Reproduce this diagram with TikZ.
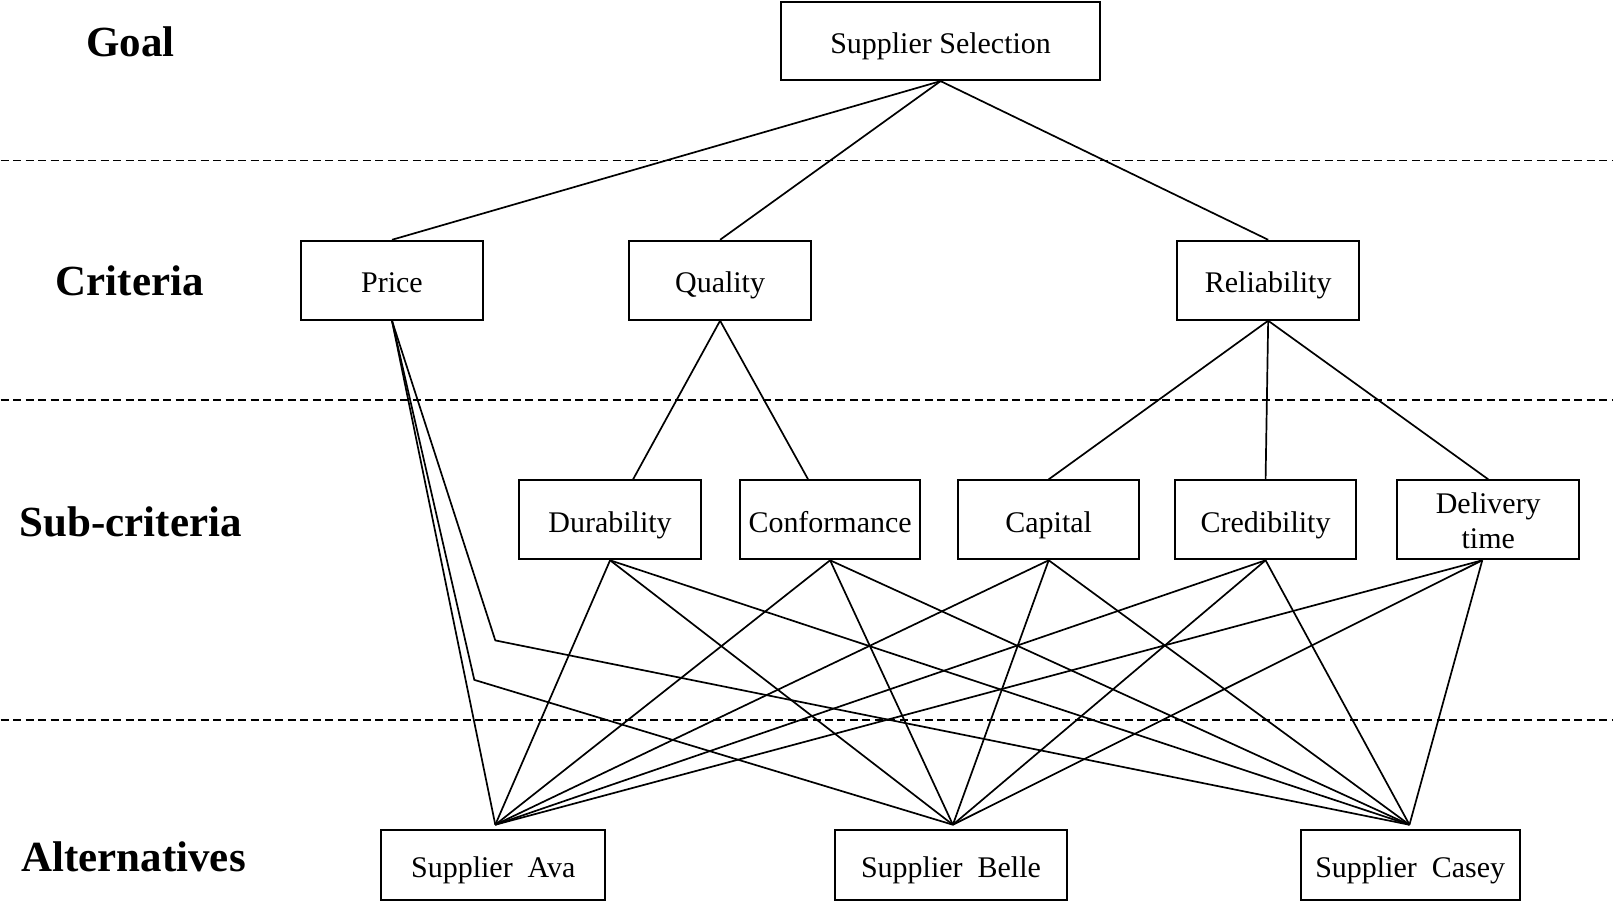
\documentclass[tikz,border=0pt]{standalone}
\usepackage{fontspec}
\setmainfont{Liberation Serif}
\begin{document}
\begin{tikzpicture}[x=1pt,y=-1pt,
  box/.style={draw,line width=2pt,inner sep=0pt,minimum height=79pt,font=\fontsize{30}{35}\selectfont,align=center,text height=25.5pt,text depth=0pt},
  lvl/.style={font=\fontsize{43}{50}\selectfont\bfseries},
  conn/.style={line width=1.7pt},
  sep/.style={line width=1.5pt,dash pattern=on 8pt off 4.5pt}]

\fill[white] (0,0) rectangle (1614,902);

% level separators
\draw[sep] (0,160.6) -- (1614,160.6);
\draw[sep] (0,400.4) -- (1614,400.4);
\draw[sep] (0,720.5) -- (1614,720.5);

% level labels
\node[lvl] (lgoal) at (130,42) {Goal};
\node[lvl] (lcrit) at (129,281) {Criteria};
\node[lvl] (lsub) at (130,522) {Sub-criteria};
\node[lvl] (lalt) at (133,857.5) {Alternatives};

% boxes
\node[box,minimum width=319pt,minimum height=78pt] (goal) at (940.7,41.2) {Supplier Selection};
\node[box,minimum width=182pt] (price) at (391.6,280.5) {Price};
\node[box,minimum width=182pt] (quality) at (720,280.5) {Quality};
\node[box,minimum width=182pt] (rel) at (1268.6,280.5) {Reliability};
\node[box,minimum width=182pt] (dur) at (609.9,520.3) {Durability};
\node[box,minimum width=180pt] (conf) at (830.1,520.3) {Conformance};
\node[box,minimum width=181pt] (cap) at (1048.9,520.3) {Capital};
\node[box,minimum width=181pt] (cred) at (1266,520.3) {Credibility};
\node[box,minimum width=182pt,text height=58pt] (del) at (1488.9,520.3) {Delivery\\time};
\node[box,minimum width=224pt,minimum height=70pt] (ava) at (493,865.6) {Supplier~~Ava};
\node[box,minimum width=232pt,minimum height=70pt] (belle) at (951.1,865.6) {Supplier~~Belle};
\node[box,minimum width=219pt,minimum height=70pt] (casey) at (1410.7,865.6) {Supplier~~Casey};

% meeting points and bends
\coordinate (aA) at (495,825.5);
\coordinate (aB) at (953,825.5);
\coordinate (aC) at (1410,825.5);
\coordinate (b1) at (474,680.5);
\coordinate (b2) at (495,641);

% connectors
\draw[conn] (goal.south) -- (price.north);
\draw[conn] (goal.south) -- (quality.north);
\draw[conn] (goal.south) -- (rel.north);

\draw[conn] (quality.south) -- ([xshift=23pt]dur.north);
\draw[conn] (quality.south) -- ([xshift=-22pt]conf.north);

\draw[conn] (rel.south) -- (cap.north);
\draw[conn] (rel.south) -- (cred.north);
\draw[conn] (rel.south) -- (del.north);

\draw[conn] (price.south) -- (aA);
\draw[conn] (price.south) -- (b1) -- (aB);
\draw[conn] (price.south) -- (b2) -- (aC);

\foreach \s in {dur,conf,cap,cred}{
  \foreach \a in {aA,aB,aC}{
    \draw[conn] (\s.south) -- (\a);
  }
}
\foreach \a in {aA,aB,aC}{
  \draw[conn] ([xshift=-6pt]del.south) -- (\a);
}
\end{tikzpicture}
\end{document}
